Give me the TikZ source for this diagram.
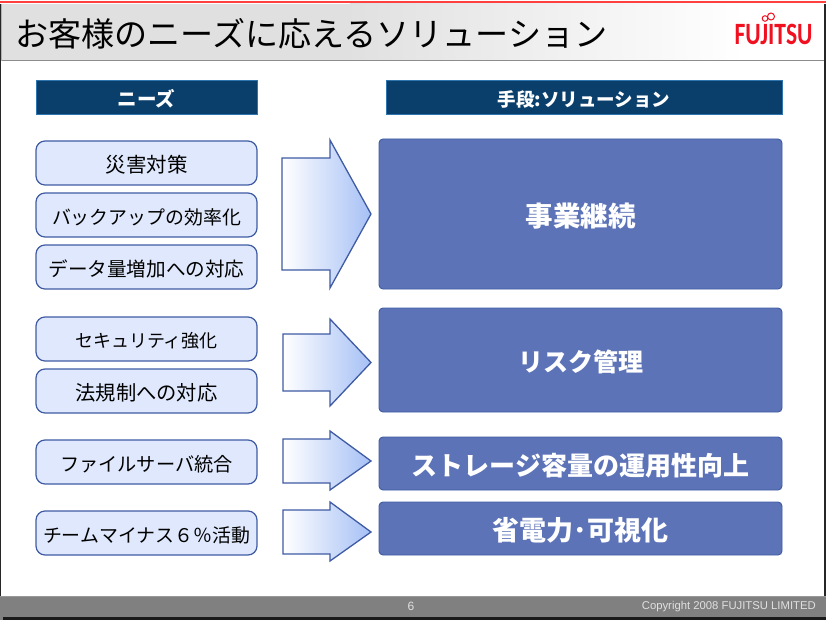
\documentclass[tikz,border=0pt]{standalone}
\usepackage{fontspec}
\setmainfont{Noto Sans CJK JP}
\newfontfamily\logofont{Carlito}
\newfontfamily\footfont{Liberation Sans}
\definecolor{navy}{HTML}{0B3F6B}
\definecolor{navyline}{HTML}{2E75B0}
\definecolor{needfill}{HTML}{DFE8FC}
\definecolor{edgeblue}{HTML}{3F5BA3}
\definecolor{solfill}{HTML}{5D73B7}
\definecolor{arrowend}{HTML}{A6C0F5}
\definecolor{arrowmid}{HTML}{DDE7FC}
\definecolor{fujired}{HTML}{F01020}
\newcommand{\fs}[1]{\fontsize{#1}{#1}\selectfont}
\newcommand{\dn}[1]{\raisebox{0pt}[\dimexpr\height+4pt\relax]{#1}}
\tikzset{
  headbox/.style={draw=navyline,line width=0.8pt,fill=navy,text=white,minimum height=34pt,inner sep=0pt},
  needbox/.style={draw=edgeblue,line width=1.2pt,fill=needfill,rounded corners=9pt,minimum width=221pt,minimum height=44pt,inner sep=0pt,text=black},
  solbox/.style={draw=edgeblue,line width=0.9pt,fill=solfill,rounded corners=4pt,minimum width=403pt,inner sep=0pt,text=white},
  flow/.style={draw=edgeblue,line width=1.3pt,left color=white,middle color=arrowmid,right color=arrowend},
}
\begin{document}
\begin{tikzpicture}[x=1pt,y=-1pt]
\useasboundingbox (0,0) rectangle (826,620);
\fill[white] (0,0) rectangle (826,620);
\fill[black!85] (0,4) rectangle (1.3,600);
\fill[black!85] (824,4) rectangle (826,600);
\fill[red!75!white] (0,1) rectangle (826,3);
\fill[black!12] (1,4) rectangle (350,61);
\shade[left color=black!12,right color=white] (350,4) rectangle (745,61);
\draw[black!45,line width=1pt] (1,61) -- (824,61);
\draw[black!30,line width=0.6pt] (1.5,4) -- (1.5,61);
\node[anchor=west,inner sep=0pt,font=\fs{33.1},text=black] (title) at (15,34) {お客様のニーズに応えるソリューション};
% logo
\node[anchor=center,inner sep=0pt,text=fujired,font=\logofont\bfseries\fs{31}] (logo) at (773.5,34) {\scalebox{0.76}[1]{FUJITSU}};
\draw[fujired,line width=1pt] (765,18.5) circle (2.8pt) (771,16.5) circle (3.5pt);
% headers
\node[headbox,minimum width=221pt,font=\fs{19.5}\bfseries] (needhead) at (146.5,97) {\dn{ニーズ}};
\node[headbox,minimum width=396pt,font=\fs{18.5}\bfseries] (solhead) at (584,97) {\dn{手段:ソリューション}};
% needs
\node[needbox,font=\fs{20.5}] (n1) at (146.5,163) {\dn{災害対策}};
\node[needbox,font=\fs{18.9}] (n2) at (146.5,215) {\dn{バックアップの効率化}};
\node[needbox,font=\fs{19.6}] (n3) at (146.5,267) {\dn{データ量増加への対応}};
\node[needbox,font=\fs{18}] (n4) at (146.5,339) {\dn{セキュリティ強化}};
\node[needbox,font=\fs{20.3}] (n5) at (146.5,391) {\dn{法規制への対応}};
\node[needbox,font=\fs{19.2}] (n6) at (146.5,462) {\dn{ファイルサーバ統合}};
\node[needbox,font=\fs{18.9}] (n7) at (146.5,533) {\dn{チームマイナス６％活動}};
% arrows
\path[flow] (282,158) -- (330,158) -- (330,140) -- (371,214) -- (330,288) -- (330,270) -- (282,270) -- cycle;
\path[flow] (283,334) -- (330,334) -- (330,319) -- (371,362.5) -- (330,406) -- (330,391) -- (283,391) -- cycle;
\path[flow] (283,439) -- (330,439) -- (330,431) -- (371,461) -- (330,490) -- (330,483) -- (283,483) -- cycle;
\path[flow] (283,510) -- (330,510) -- (330,502) -- (371,532) -- (330,561) -- (330,554) -- (283,554) -- cycle;
% solutions
\node[solbox,minimum height=150pt,font=\fs{27.5}\bfseries] (s1) at (580.5,214) {\dn{事業継続}};
\node[solbox,minimum height=104pt,font=\fs{25}\bfseries] (s2) at (580.5,360) {\dn{リスク管理}};
\node[solbox,minimum height=53pt,font=\fs{26}\bfseries] (s3) at (580.5,463.5) {\dn{ストレージ容量の運用性向上}};
\node[solbox,minimum height=53pt,font=\fs{27}\bfseries] (s4) at (580.5,528.5) {\dn{省電力･可視化}};
% footer
\fill[black!50] (0,596) rectangle (826,617);
\fill[black!40] (0,595.5) rectangle (826,596.5);
\fill[black!90] (3,617) rectangle (826,620);
\fill[black!50] (0,617) rectangle (3,620);
\node[inner sep=0pt,text=black!12,font=\footfont\fs{12}] (pageno) at (411,606) {6};
\node[anchor=east,inner sep=0pt,text=black!12,font=\footfont\fs{11.3}] (copy) at (816,607) {Copyright 2008 FUJITSU LIMITED};
\end{tikzpicture}
\end{document}
